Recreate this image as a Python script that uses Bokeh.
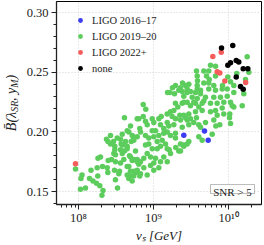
import numpy as np
from bokeh.plotting import figure
from bokeh.models import (Range1d, FixedTicker, SingleIntervalTicker, CustomJSTickFormatter,
                          PrintfTickFormatter, Legend, LegendItem, Label, BoxAnnotation,
                          LinearAxis)
from bokeh.embed import file_html
from bokeh.resources import INLINE

# ---------------- data ----------------
# log10(v_s / GeV) and B-bar values for each observing-run group
green_log10_vs = [
    7.96, 8.047, 8.033, 8.027, 8.093, 8.167, 8.147, 8.193, 8.249, 8.26,
    8.24, 8.284, 8.327, 8.313, 8.32, 8.383, 8.391, 8.396, 8.44, 8.48,
    8.471, 8.493, 8.537, 8.52, 8.427, 8.373, 8.393, 8.427, 8.467, 8.484,
    8.516, 8.56, 8.569, 8.587, 8.56, 8.613, 8.649, 8.671, 8.693, 8.729,
    8.703, 8.737, 8.76, 8.783, 8.716, 8.693, 8.671, 8.716, 8.737, 8.649,
    8.804, 8.817, 8.804, 8.817, 8.293, 8.484, 8.493, 8.56, 8.547, 8.493,
    8.68, 8.671, 8.257, 8.613, 8.783, 8.863, 8.893, 8.916, 8.983, 9.004,
    9.071, 9.103, 9.183, 9.227, 9.271, 9.249, 9.293, 9.36, 9.351, 9.427,
    9.493, 9.537, 9.573, 9.604, 9.471, 9.383, 9.271, 9.204, 9.183, 9.093,
    9.137, 8.583, 8.649, 8.627, 8.649, 8.716, 8.783, 8.827, 8.893, 8.937,
    8.983, 9.027, 9.004, 9.071, 9.137, 9.183, 9.227, 9.293, 9.293, 9.116,
    9.049, 8.937, 8.893, 8.983, 9.049, 9.093, 9.16, 9.183, 9.227, 9.36,
    9.404, 9.471, 9.337, 8.693, 8.737, 8.783, 8.827, 8.871, 8.916, 8.96,
    9.027, 9.004, 9.093, 9.137, 8.96, 8.871, 8.783, 8.693, 8.737, 8.827,
    8.916, 9.004, 9.071, 9.183, 8.649, 8.604, 8.583, 9.217, 9.28, 9.383,
    9.449, 9.493, 9.56, 9.404, 9.516, 9.583, 9.293, 9.324, 9.383, 9.449,
    9.493, 9.56, 9.604, 8.863, 9.573, 9.583, 9.471, 9.427, 9.36, 9.293,
    9.337, 9.449, 9.583, 9.627, 10.249, 9.76, 9.827, 9.671, 9.737, 9.707,
    9.827, 9.991, 10.11, 10.271, 10.227, 10.027, 9.92, 9.804, 9.737, 9.671,
    9.583, 9.627, 9.737, 9.827, 9.916, 9.983, 10.071, 10.204, 10.071, 9.983,
    9.893, 9.804, 9.693, 9.537, 9.649, 9.76, 9.849, 9.937, 10.049, 10.183,
    9.916, 9.404, 9.671, 10.027, 10.071, 9.937, 10.017, 10.013, 10.027, 9.884,
    9.804, 9.693, 9.627, 9.404, 9.471, 9.56, 9.649, 9.76, 9.827, 9.849,
    9.449, 9.783, 9.604, 9.649, 9.449, 9.404, 9.36, 9.831, 8.764, 9.209,
    9.297, 8.897, 9.387, 9.253, 9.187, 9.743, 9.587,
]
green_B = [
    0.169, 0.164, 0.161, 0.152, 0.153, 0.168, 0.161, 0.159, 0.170, 0.178,
    0.157, 0.155, 0.151, 0.147, 0.171, 0.170, 0.166, 0.176, 0.177, 0.168,
    0.182, 0.181, 0.165, 0.153, 0.197, 0.194, 0.192, 0.190, 0.192, 0.188,
    0.195, 0.194, 0.190, 0.189, 0.185, 0.184, 0.188, 0.200, 0.205, 0.196,
    0.192, 0.193, 0.184, 0.175, 0.176, 0.163, 0.161, 0.159, 0.167, 0.164,
    0.211, 0.203, 0.173, 0.163, 0.179, 0.185, 0.175, 0.174, 0.167, 0.160,
    0.180, 0.171, 0.163, 0.212, 0.211, 0.213, 0.209, 0.206, 0.211, 0.208,
    0.211, 0.213, 0.215, 0.217, 0.218, 0.213, 0.211, 0.210, 0.214, 0.212,
    0.211, 0.208, 0.212, 0.206, 0.206, 0.204, 0.206, 0.205, 0.208, 0.206,
    0.203, 0.198, 0.201, 0.192, 0.186, 0.197, 0.196, 0.200, 0.197, 0.195,
    0.201, 0.201, 0.196, 0.197, 0.199, 0.200, 0.197, 0.195, 0.199, 0.193,
    0.192, 0.190, 0.189, 0.186, 0.186, 0.188, 0.190, 0.186, 0.182, 0.190,
    0.188, 0.192, 0.184, 0.179, 0.177, 0.177, 0.175, 0.178, 0.182, 0.179,
    0.178, 0.174, 0.175, 0.179, 0.172, 0.170, 0.168, 0.167, 0.163, 0.165,
    0.164, 0.168, 0.170, 0.175, 0.171, 0.177, 0.182, 0.233, 0.232, 0.234,
    0.233, 0.234, 0.233, 0.230, 0.229, 0.228, 0.224, 0.221, 0.224, 0.225,
    0.222, 0.224, 0.221, 0.223, 0.251, 0.247, 0.240, 0.239, 0.237, 0.239,
    0.235, 0.236, 0.236, 0.232, 0.263, 0.256, 0.255, 0.251, 0.251, 0.247,
    0.247, 0.246, 0.249, 0.250, 0.244, 0.242, 0.239, 0.239, 0.241, 0.241,
    0.239, 0.235, 0.236, 0.235, 0.236, 0.236, 0.239, 0.232, 0.233, 0.230,
    0.229, 0.229, 0.229, 0.225, 0.224, 0.224, 0.224, 0.225, 0.222, 0.222,
    0.220, 0.225, 0.226, 0.225, 0.221, 0.215, 0.215, 0.212, 0.207, 0.206,
    0.210, 0.208, 0.204, 0.214, 0.215, 0.217, 0.218, 0.217, 0.218, 0.214,
    0.210, 0.198, 0.196, 0.193, 0.190, 0.189, 0.184, 0.205, 0.166, 0.185,
    0.187, 0.219, 0.241, 0.237, 0.233, 0.244, 0.243,
]
blue_log10_vs = [9.404, 9.68, 9.729]
blue_B = [0.1973, 0.2009, 0.1931]
red_log10_vs = [7.96, 9.791, 9.903, 9.849, 9.884, 9.951, 10.229]
red_B = [0.1733, 0.2633, 0.2668, 0.2505, 0.2495, 0.2427, 0.2414]
black_log10_vs = [9.907, 10.057, 9.991, 10.027, 10.103, 10.137, 10.196, 10.257, 10.103, 10.16, 10.196]
black_B = [0.2703, 0.2724, 0.2559, 0.2579, 0.2598, 0.2587, 0.2529, 0.2529, 0.2460, 0.2381, 0.2358]

series_labels = ["LIGO 2016\u201317", "LIGO 2019\u201320", "LIGO 2022+", "none"]
x_major_ticks = [1e8, 1e9, 1e10]
x_minor_ticks = [m * 10.0 ** d for d in (7, 8, 9, 10) for m in range(2, 10)]

# axis titles: main text and its subscripts (spaces keep the two aligned)
EN, EM, THIN, HAIR = "\u2002", "\u2003", "\u2009", "\u200a"
y_title_main = "B\u0304(\u03bb" + EN + THIN + HAIR + ", y" + EN + HAIR + ")"
y_title_subs = EM + EM + "SR" + EM + THIN + HAIR + "M" + EN
x_title = "v\u209b [GeV]"

# ---------------- styling ----------------
SERIF = "Liberation Serif"
C_BLUE, C_GREEN, C_RED, C_BLACK = "#3c3cf2", "#5ccd5c", "#f75c5c", "#000000"
MS = 5.5
INK = "#222222"

p = figure(width=264, height=245, x_axis_type="log",
           x_range=Range1d(10 ** 7.7067, 10 ** 10.44),
           y_range=Range1d(0.13922, 0.30933),
           output_backend="svg", toolbar_location=None,
           min_border_left=56, min_border_right=3, min_border_top=1, min_border_bottom=38)
p.background_fill_color = "white"
p.border_fill_color = "white"
p.outline_line_color = "black"
p.outline_line_width = 1

def to_vs(exps):
    return [10.0 ** e for e in exps]

r_green = p.scatter(to_vs(green_log10_vs), green_B, size=MS, color=C_GREEN, line_color=None)
r_blue = p.scatter(to_vs(blue_log10_vs), blue_B, size=MS, color=C_BLUE, line_color=None)
r_red = p.scatter(to_vs(red_log10_vs), red_B, size=MS, color=C_RED, line_color=None)
r_black = p.scatter(to_vs(black_log10_vs), black_B, size=MS, color=C_BLACK, line_color=None)

# axes
p.xaxis.ticker = FixedTicker(ticks=x_major_ticks, minor_ticks=x_minor_ticks)
p.xaxis.formatter = CustomJSTickFormatter(code=r"""
const sup = {"0":"\u2070","1":"\u00b9","2":"\u00b2","3":"\u00b3","4":"\u2074",
             "5":"\u2075","6":"\u2076","7":"\u2077","8":"\u2078","9":"\u2079","-":"\u207b"};
const e = Math.round(Math.log10(tick));
return "10" + String(e).split("").map((c) => sup[c]).join("");
""")
p.yaxis.ticker = SingleIntervalTicker(interval=0.05, num_minor_ticks=5)
p.yaxis.formatter = PrintfTickFormatter(format="%.2f")
p.xgrid.ticker = p.xaxis.ticker
p.ygrid.ticker = p.yaxis.ticker

for ax in (p.xaxis, p.yaxis):
    ax.axis_line_color = INK
    ax.axis_line_width = 1.3
    ax.major_tick_line_color = INK
    ax.minor_tick_line_color = INK
    ax.major_tick_in = 0
    ax.major_tick_out = 5
    ax.minor_tick_in = 0
    ax.minor_tick_out = 3
    ax.major_label_text_font = SERIF
    ax.major_label_text_font_size = "12.5px"
    ax.major_label_text_color = INK
    ax.axis_label_text_font = SERIF
    ax.axis_label_text_font_style = "italic"
    ax.axis_label_text_color = INK
p.xaxis.major_label_standoff = 1
p.yaxis.major_label_standoff = 3

p.xaxis.axis_label = x_title
p.xaxis.axis_label_text_font_size = "13px"
p.xaxis.axis_label_standoff = 0

# the y title: subscripts on the main axis, main text on an extra (bare) axis
p.yaxis.axis_label = y_title_subs
p.yaxis.axis_label_text_font_size = "10px"
p.yaxis.axis_label_standoff = 4
title_axis = LinearAxis(ticker=FixedTicker(ticks=[]), axis_label=y_title_main,
                        axis_label_text_font=SERIF, axis_label_text_font_style="italic",
                        axis_label_text_font_size="14px", axis_label_text_color=INK,
                        axis_label_standoff=-13, axis_line_alpha=0,
                        major_tick_out=0, minor_tick_out=0, major_tick_in=0, minor_tick_in=0)
p.add_layout(title_axis, "left")

for g in (p.xgrid, p.ygrid):
    g.grid_line_color = "#c8c8c8"
    g.grid_line_dash = "1 2"
    g.grid_line_width = 0.8

# legend
legend = Legend(items=[
    LegendItem(label=series_labels[0], renderers=[r_blue]),
    LegendItem(label=series_labels[1], renderers=[r_green]),
    LegendItem(label=series_labels[2], renderers=[r_red]),
    LegendItem(label=series_labels[3], renderers=[r_black]),
], location=(10, 124))
legend.margin = 0
legend.padding = 6
legend.spacing = 4
legend.glyph_width = 16
legend.glyph_height = 12
legend.label_height = 12
legend.label_standoff = 4
legend.label_text_font = SERIF
legend.label_text_font_size = "10.5px"
legend.label_text_color = INK
legend.background_fill_alpha = 0
legend.border_line_alpha = 0
p.add_layout(legend)

# SNR box
p.add_layout(BoxAnnotation(left=154, right=198, bottom=11, top=20,
                           left_units="screen", right_units="screen",
                           bottom_units="screen", top_units="screen",
                           fill_color="white", fill_alpha=1,
                           line_color=INK, line_width=1))
p.add_layout(Label(x=176, y=12.5, x_units="screen", y_units="screen", text="SNR > 5",
                   text_font=SERIF, text_font_size="11px", text_color=INK,
                   text_align="center", text_baseline="alphabetic"))

open("out.html", "w").write(file_html(p, INLINE))
